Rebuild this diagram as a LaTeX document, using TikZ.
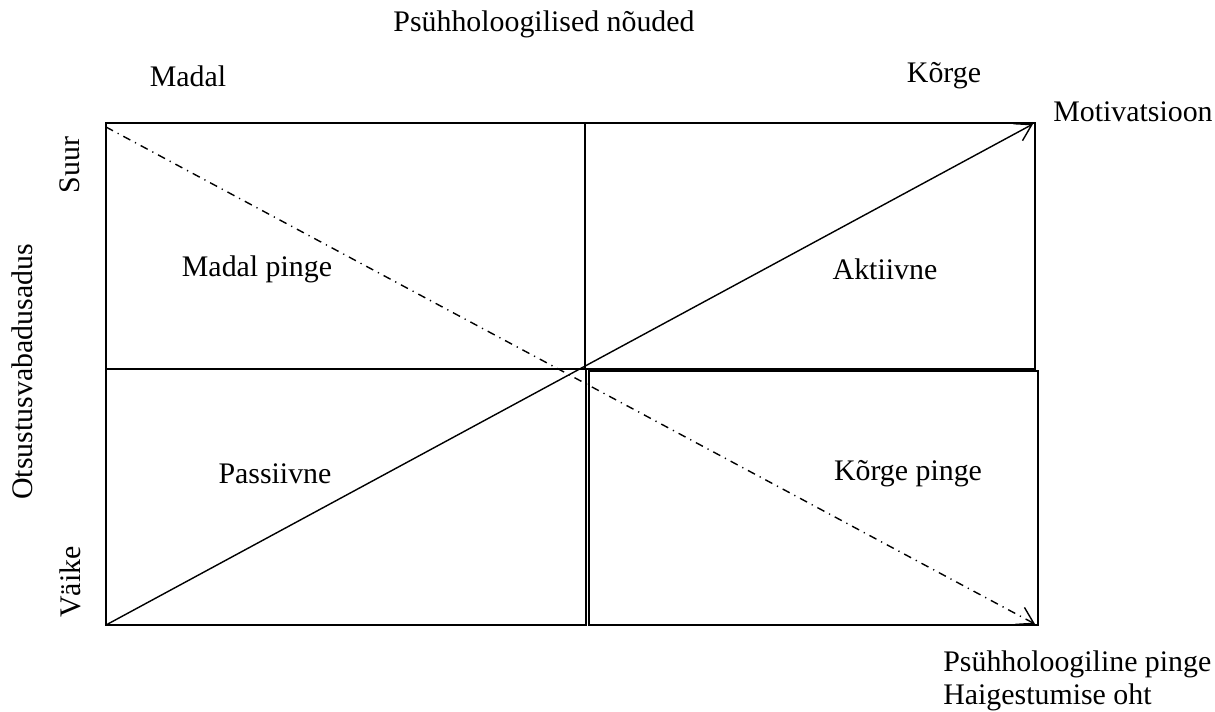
\documentclass[tikz,border=0pt]{standalone}
\usepackage{fontspec}
\setmainfont{Liberation Serif}
\usetikzlibrary{arrows.meta}

\begin{document}
\begin{tikzpicture}[
  x=0.02cm, y=-0.02cm,
  lbl/.style={font=\fontsize{17}{20}\selectfont, inner sep=0pt},
  quad/.style={draw=black, line width=0.8pt},
  arr/.style={-{Straight Barb[length=9pt,width=11pt]}, line width=0.8pt},
  dasharr/.style={arr, dash pattern=on 4.5pt off 3pt on 0.7pt off 3pt},
]
\useasboundingbox (0,0) rectangle (1215,711);

%% Corners of the four quadrants
\coordinate (tl1) at (106,123);  \coordinate (tl2) at (585,369);
\coordinate (tr1) at (585,123);  \coordinate (tr2) at (1035,369);
\coordinate (bl1) at (106,369);  \coordinate (bl2) at (586,625);
\coordinate (br1) at (589,371);  \coordinate (br2) at (1038,625);

\draw[quad] (tl1) rectangle (tl2);
\draw[quad] (tr1) rectangle (tr2);
\draw[quad] (bl1) rectangle (bl2);
\draw[quad] (br1) rectangle (br2);

%% Axis texts
\node[lbl] (title)  at (544,24)  {Psühholoogilised nõuded};
\node[lbl] (low)    at (188,76)  {Madal};
\node[lbl] (high)   at (944,76)  {Kõrge};
\node[lbl] (motiv)  at (1133,112) {Motivatsioon};
\node[lbl, rotate=90] (big)   at (70,165) {Suur};
\node[lbl, rotate=90] (small) at (70,582) {Väike};
\node[lbl, rotate=90] (yaxis) at (22,372) {Otsustusvabadusadus};
\node[lbl, anchor=west] (strain) at (943,664) {Psühholoogiline pinge};
\node[lbl, anchor=west] (risk)   at (943,697) {Haigestumise oht};

%% Quadrant names
\node[lbl] (q1) at (257,269) {Madal pinge};
\node[lbl] (q2) at (885,269) {Aktiivne};
\node[lbl] (q3) at (275,474) {Passiivne};
\node[lbl] (q4) at (908,474) {Kõrge pinge};

%% Diagonals
\coordinate (start1) at (106,625);
\coordinate (end1)   at (1033,124);
\coordinate (start2) at (106,127);
\coordinate (end2)   at (1035,624);
\draw[arr] (start1) -- (end1);
\draw[dasharr] (start2) -- (end2);

\end{tikzpicture}
\end{document}
